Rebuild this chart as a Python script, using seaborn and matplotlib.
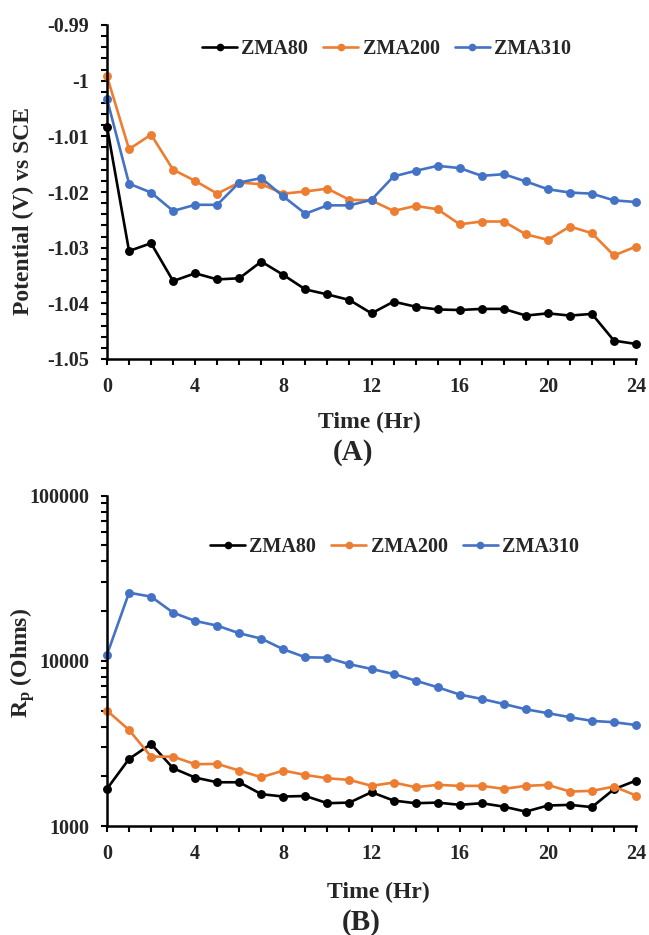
import numpy as np
import pandas as pd
import seaborn as sns
import matplotlib
matplotlib.use("Agg")
import matplotlib.pyplot as plt
from matplotlib.ticker import MultipleLocator, FuncFormatter, FixedLocator, LogLocator, NullFormatter
from matplotlib.lines import Line2D

# ---------------- data ----------------
time_hr = list(range(25))
series_names = ["ZMA80", "ZMA200", "ZMA310"]

pot_zma80 = [-1.0083, -1.0306, -1.0292, -1.0360, -1.0346, -1.0357, -1.0355, -1.0325, -1.0349,
             -1.0375, -1.0384, -1.0394, -1.0418, -1.0397, -1.0406, -1.0411, -1.0412, -1.0410,
             -1.0410, -1.0422, -1.0418, -1.0422, -1.0419, -1.0467, -1.0473]
pot_zma200 = [-0.9992, -1.0123, -1.0097, -1.0160, -1.0180, -1.0203, -1.0183, -1.0186, -1.0203,
              -1.0199, -1.0194, -1.0214, -1.0215, -1.0234, -1.0225, -1.0231, -1.0258, -1.0253,
              -1.0253, -1.0276, -1.0286, -1.0262, -1.0274, -1.0314, -1.0298]
pot_zma310 = [-1.0033, -1.0185, -1.0201, -1.0234, -1.0223, -1.0223, -1.0183, -1.0175, -1.0208,
              -1.0239, -1.0224, -1.0224, -1.0214, -1.0172, -1.0162, -1.0153, -1.0157, -1.0171,
              -1.0168, -1.0181, -1.0195, -1.0201, -1.0203, -1.0215, -1.0218]

rp_zma80 = [1680, 2547, 3140, 2238, 1964, 1840, 1840, 1559, 1508, 1520, 1374, 1386, 1602,
            1426, 1374, 1386, 1343, 1374, 1310, 1222, 1330, 1343, 1301, 1670, 1884]
rp_zma200 = [4995, 3816, 2630, 2630, 2366, 2378, 2165, 1975, 2165, 2038, 1945, 1902, 1750,
             1833, 1718, 1774, 1750, 1750, 1679, 1750, 1774, 1617, 1632, 1733, 1529]
rp_zma310 = [10900, 25870, 24470, 19580, 17440, 16340, 14690, 13630, 11750, 10510, 10450, 9536,
             8930, 8330, 7590, 6920, 6250, 5880, 5480, 5090, 4820, 4560, 4330, 4250, 4090]

pot_ticks = [-1.05, -1.04, -1.03, -1.02, -1.01, -1.0, -0.99]
rp_ticks = [1000, 10000, 100000]
x_ticks = [0, 4, 8, 12, 16, 20, 24]

colors = {"ZMA80": "#000000", "ZMA200": "#ED7D31", "ZMA310": "#4472C4"}

df_pot = pd.DataFrame({
    "Time": time_hr * 3,
    "Value": pot_zma80 + pot_zma200 + pot_zma310,
    "Sample": sum([[n] * len(time_hr) for n in series_names], []),
})
df_rp = pd.DataFrame({
    "Time": time_hr * 3,
    "Value": rp_zma80 + rp_zma200 + rp_zma310,
    "Sample": sum([[n] * len(time_hr) for n in series_names], []),
})

# ---------------- style ----------------
sns.set_style("ticks")
plt.rcParams["font.family"] = ["Liberation Serif", "DejaVu Serif"]
plt.rcParams["font.weight"] = "bold"
plt.rcParams["mathtext.fontset"] = "custom"
plt.rcParams["mathtext.rm"] = "Liberation Serif:bold"
plt.rcParams["mathtext.it"] = "Liberation Serif:bold"
plt.rcParams["mathtext.bf"] = "Liberation Serif:bold"

TICK_FS = 14.5
LABEL_FS = 17
LEG_FS = 14.5
CAP_FS = 21

fig = plt.figure(figsize=(6.49, 9.35), dpi=100)
ax1 = fig.add_axes([107 / 649, 1 - 359 / 935, 529 / 649, 334 / 935])
ax2 = fig.add_axes([107 / 649, 1 - 826 / 935, 529 / 649, 330.3 / 935])

line_kw = dict(marker="o", markersize=6.4, markeredgewidth=0, linewidth=1.9, clip_on=False)

for ax, df in [(ax1, df_pot), (ax2, df_rp)]:
    sns.lineplot(data=df, x="Time", y="Value", hue="Sample", hue_order=series_names,
                 palette=colors, ax=ax, legend=False, **line_kw)
    ax.set_xlim(0, 24)
    ax.xaxis.set_major_locator(FixedLocator(x_ticks))
    ax.xaxis.set_minor_locator(MultipleLocator(1))
    for s in ["top", "right"]:
        ax.spines[s].set_visible(False)
    for s in ["left", "bottom"]:
        ax.spines[s].set_linewidth(1.8)
        ax.spines[s].set_color("black")
    ax.tick_params(which="both", direction="out", length=4.5, width=1.5, color="black",
                   labelsize=TICK_FS, pad=8.5)
    ax.set_xlabel("Time (Hr)", fontsize=LABEL_FS, fontweight="bold", labelpad=4)
    ax.set_ylabel("")
    ax.set_facecolor("white")
    ax.grid(False)

# top axis
ax1.set_ylim(-1.05, -0.99)
ax1.yaxis.set_major_locator(FixedLocator(pot_ticks))
ax1.yaxis.set_minor_locator(MultipleLocator(0.002))
ax1.yaxis.set_major_formatter(FuncFormatter(lambda v, p: f"{round(v, 4):g}"))

# bottom axis
ax2.set_yscale("log")
ax2.set_ylim(1000, 100000)
ax2.yaxis.set_major_locator(FixedLocator(rp_ticks))
ax2.yaxis.set_minor_locator(LogLocator(base=10, subs=np.arange(2, 10)))
ax2.yaxis.set_minor_formatter(NullFormatter())
ax2.yaxis.set_major_formatter(FuncFormatter(lambda v, p: f"{int(round(v))}"))

for ax in (ax1, ax2):
    for lab in ax.get_xticklabels() + ax.get_yticklabels():
        lab.set_fontweight("bold")

# x labels placement
ax1.xaxis.set_label_coords((369 - 107) / 529, -(412 - 359) / 334)
ax2.xaxis.set_label_coords((378 - 107) / 529, -(882 - 826) / 330.3)

# y labels as figure text
fig.text(23 / 649, 1 - 211 / 935, "Potential (V) vs SCE", rotation=90, ha="center", va="center",
         fontsize=LABEL_FS, fontweight="bold")
fig.text(23 / 649, 1 - 663 / 935, r"R$_\mathrm{p}$ (Ohms)", rotation=90, ha="center", va="center",
         fontsize=LABEL_FS, fontweight="bold")

# captions
fig.text(353 / 649, 1 - 453 / 935, "(A)", ha="center", va="center", fontsize=CAP_FS, fontweight="bold")
fig.text(361 / 649, 1 - 922 / 935, "(B)", ha="center", va="center", fontsize=CAP_FS, fontweight="bold")

# legends
handles = [Line2D([0], [0], color=colors[n], marker="o", markersize=5.5, markeredgewidth=0,
                  linewidth=1.9) for n in series_names]
for ax, anchor in [(ax1, (202 / 649, 1 - 49 / 935)), (ax2, (210 / 649, 1 - 547 / 935))]:
    leg = ax.legend(handles, series_names, ncol=3, frameon=False, loc="center left",
                    bbox_to_anchor=anchor, bbox_transform=fig.transFigure,
                    borderpad=0, borderaxespad=0, handlelength=1.75, handletextpad=0.2,
                    columnspacing=0.75, prop={"family": "Liberation Serif", "weight": "bold",
                                               "size": LEG_FS})

fig.savefig("out.png", dpi=100, facecolor="white")
